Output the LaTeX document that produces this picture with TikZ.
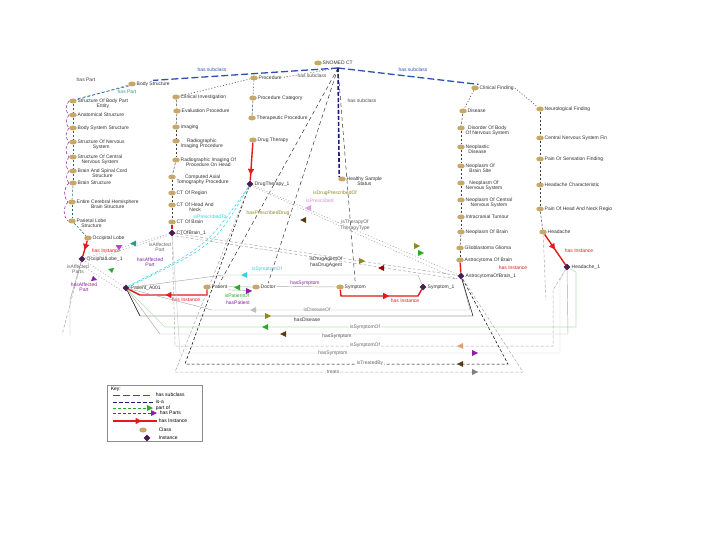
\documentclass[tikz,border=0pt]{standalone}
\usepackage{fontspec}
\setmainfont{Liberation Sans}
\usetikzlibrary{shapes.geometric,arrows.meta,decorations.markings}
\definecolor{clsc}{HTML}{C8A868}
\definecolor{instc}{HTML}{4B1E52}
\definecolor{subc}{HTML}{2E50B5}
\definecolor{isac}{HTML}{1C1C7A}
\definecolor{redc}{HTML}{E31A1A}
\definecolor{cyanc}{HTML}{3CCFE0}
\definecolor{greenc}{HTML}{2EA82E}
\definecolor{purc}{HTML}{8B1FA8}
\definecolor{olivec}{HTML}{8C8A22}
\definecolor{grayc}{HTML}{A8A8A8}
\definecolor{lgreenc}{HTML}{B8E4B0}
\definecolor{brownc}{HTML}{5A3A10}
\definecolor{tealc}{HTML}{2A9A8A}
\definecolor{magc}{HTML}{C040D0}
\definecolor{tanc}{HTML}{E0A070}
\newcommand\mkcls[4]{\node[clsicon] (#1) at (#2,#3) {}; \node[lbl] (#1-t) at (#2+3.5,#3-3.6) {#4};}
\newcommand\mkinst[4]{\node[insticon] (#1) at (#2,#3) {}; \node[lbl] (#1-t) at (#2+3.5,#3-3.6) {#4};}
\newcommand\rarr[3]{\fill[#3] (#1,#2) -- ++(-6,-3) -- ++(0,6) -- cycle;}
\newcommand\larr[3]{\fill[#3] (#1,#2) -- ++(6,-3) -- ++(0,6) -- cycle;}
\tikzset{
 clsicon/.style={ellipse, fill=clsc, minimum width=7.5pt, minimum height=5pt, inner sep=0pt},
 insticon/.style={diamond, fill=instc, minimum width=7pt, minimum height=7pt, inner sep=0pt},
 lbl/.style={font=\fontsize{5}{5.5}\selectfont, text=black!80, inner sep=1pt, align=center, anchor=north west},
 elbl/.style={font=\fontsize{5}{5.5}\selectfont, inner sep=0.6pt, align=center},
 subcl/.style={draw=subc, line width=1.3pt, dash pattern=on 7pt off 3pt},
 isa/.style={draw=isac, line width=1.6pt, dash pattern=on 4pt off 2pt},
 chain/.style={draw=black!75, line width=0.5pt, dash pattern=on 2.5pt off 1.5pt},
 dotl/.style={draw=black!75, line width=0.6pt, dash pattern=on 1pt off 2pt},
 thinl/.style={line width=0.45pt},
 dashl/.style={line width=0.5pt, dash pattern=on 3pt off 2pt},
 longd/.style={draw=black!80, line width=0.5pt, dash pattern=on 4pt off 3pt},
 instl/.style={draw=redc, line width=1.4pt},
 atip/.style 2 args={postaction={decorate}, decoration={markings, mark=at position #1 with {\arrow{Triangle[length=6pt,width=6pt,color=#2]}}}},
}
\begin{document}
\begin{tikzpicture}[x=1pt,y=-1pt]
\fill[white] (0,0) rectangle (720,540);
\path[use as bounding box] (0,0) rectangle (720,540);

% ---------- top
\mkcls{root}{318}{63}{SNOMED CT}
\coordinate (hub) at (338,68);
\mkcls{bs}{132}{84}{Body Structure}
\mkcls{proc}{254}{78}{Procedure}
\mkcls{cfd}{475}{88}{Clinical Finding}
\mkcls{hs}{342}{179}{Healthy Sample\\Status}

% ---------- left column
\mkcls{la}{73}{101}{Structure Of Body Part\\Entity}
\mkcls{lb}{73}{115}{Anatomical Structure}
\mkcls{lc}{73}{128}{Body System Structure}
\mkcls{ld}{73}{142}{Structure Of Nervous\\System}
\mkcls{le}{73}{157}{Structure Of Central\\Nervous System}
\mkcls{lf}{73}{171}{Brain And Spinal Cord\\Structure}
\mkcls{lg}{73}{183}{Brain Structure}
\mkcls{lh}{72}{202}{Entire Cerebral Hemisphere\\Brain Structure}
\mkcls{li}{72}{221}{Parietal Lobe\\Structure}
\mkcls{lj}{88}{238}{Occipital Lobe}
\mkinst{lI}{82}{259}{OccipitalLobe\_1}

% ---------- centre-left column
\mkcls{ca}{176}{97}{Clinical Investigation}
\mkcls{cb}{177}{111}{Evaluation Procedure}
\mkcls{cc}{176}{127}{Imaging}
\mkcls{cd}{176}{141}{Radiographic\\Imaging Procedure}
\mkcls{ce}{176}{160}{Radiographic Imaging Of\\Procedure On Head}
\mkcls{cg}{172}{177}{Computed Axial\\Tomography Procedure}
\mkcls{ch}{172}{193}{CT Of Region}
\mkcls{ci}{172}{205}{CT Of Head And\\Neck}
\mkcls{cj}{172}{222}{CT Of Brain}
\mkinst{cI}{172}{233}{CTOfBrain\_1}

% ---------- centre column
\mkcls{da}{253}{98}{Procedure Category}
\mkcls{db}{252}{118}{Therapeutic Procedure}
\mkcls{dc}{253}{140}{Drug Therapy}
\mkinst{dI}{250}{184}{DrugTherapy\_1}

% ---------- disease column
\mkcls{ea}{463}{111}{Disease}
\mkcls{eb}{461}{128}{Disorder Of Body\\Of Nervous System}
\mkcls{ec}{461}{147}{Neoplastic\\Disease}
\mkcls{ed}{461}{166}{Neoplasm Of\\Brain Site}
\mkcls{ee}{461}{183}{Neoplasm Of\\Nervous System}
\mkcls{ef}{461}{200}{Neoplasm Of Central\\Nervous System}
\mkcls{eg}{461}{217}{Intracranial Tumour}
\mkcls{eh}{461}{232}{Neoplasm Of Brain}
\mkcls{ei}{460}{248}{Glioblastoma Glioma}
\mkcls{ej}{460}{260}{Astrocytoma Of Brain}
\mkinst{eI}{461}{276}{AstrocytomaOfBrain\_1}

% ---------- finding column
\mkcls{fa}{540}{109}{Neurological Finding}
\mkcls{fb}{540}{138}{Central Nervous System Fin}
\mkcls{fc}{540}{159}{Pain Or Sensation Finding}
\mkcls{fd}{540}{185}{Headache Characteristic}
\mkcls{fe}{540}{209}{Pain Of Head And Neck Regio}
\mkcls{ff}{543}{232}{Headache}
\mkinst{fI}{567}{267}{Headache\_1}

% ---------- middle row
\mkcls{pc}{207}{287}{Patient}
\mkcls{dr}{256}{287}{Doctor}
\mkcls{sc}{340}{287}{Symptom}
\mkinst{pI}{126}{288}{Patient\_A001}
\mkinst{sI}{423}{287}{Symptom\_1}

% ---------- top edges
\draw[subcl] (hub) -- (bs-t.north);
\draw[subcl] (hub) -- (cfd-t.north west);
\draw[isa] (hub) -- (hs.north west);
\draw[dotl] (hub) -- (proc-t.east);
\draw[dotl] (proc) -- (ca);
\draw[dotl] (proc) -- (da);
\draw[dotl] (cfd) -- (ea);
\draw[dotl] (cfd-t.east) -- (fa);
\draw[longd] (hub) -- (pc-t.north);
\draw[longd] (hub) -- (dr-t.north);
\draw[longd] (hub) -- (sc-t.north);
\node[elbl, text=subc] (ls1) at (212,70) {has subclass};
\node[elbl, text=subc] (ls2) at (413,70) {has subclass};
\node[elbl, text=black!70] (ls3) at (362,101) {has subclass};
\node[elbl, text=black!70, fill=white] (ls4) at (312,76) {has subclass};

% ---------- left column edges
\draw[dashl, draw=tealc] (bs) -- (la);
\draw[dashl, draw=subc] (bs.south west) -- (la.north east);
\node[elbl, text=black!75] (lhp1) at (86,80) {has Part};
\node[elbl, text=tealc] (lhp2) at (127,92) {has Part};
\foreach \a/\b in {la/lb,lb/lc,lc/ld,ld/le,le/lf,lf/lg,lg/lh,lh/li,li/lj}
  \draw[chain, draw=tealc!70!black] (\a) -- (\b);
\foreach \a/\b in {la/lb,lb/lc,lc/ld,ld/le,le/lf,lf/lg,lg/lh,lh/li}
  \draw[dashl, draw=purc] (\a.west) to[bend right=45] (\b.west);
\draw[instl, atip={0.6}{redc}] (lj) -- (lI);
\node[elbl, text=redc] (lhi) at (106,251) {has Instance};
\coordinate (lo1) at (62,335);
\coordinate (lo2) at (70,335);
\draw[dashl, draw=grayc] (lI) -- (lo1);
\draw[thinl, draw=grayc] (lI) -- (70,300) -- (lo2);

% ---------- centre-left edges
\foreach \a/\b in {ca/cb,cb/cc,cc/cd,cd/ce,ce/cg,cg/ch,ch/ci,ci/cj}
  \draw[chain] (\a) -- (\b);
\draw[instl] (cj) -- (cI);

% ---------- centre column edges
\draw[chain] (da) -- (db);
\draw[instl, atip={0.85}{redc}] (dc) -- (dI);

% ---------- disease / finding columns
\foreach \a/\b in {ea/eb,eb/ec,ec/ed,ed/ee,ee/ef,ef/eg,eg/eh,eh/ei,ei/ej}
  \draw[chain] (\a) -- (\b);
\draw[instl] (ej) -- (eI);
\node[elbl, text=redc] (ehi) at (513,268) {has Instance};
\foreach \a/\b in {fa/fb,fb/fc,fc/fd,fd/fe,fe/ff}
  \draw[chain] (\a) -- (\b);
\draw[instl, atip={0.5}{redc}] (ff) -- (fI);
\node[elbl, text=redc] (fhi) at (579,251) {has Instance};
\draw[dashl, draw=grayc] (ff) -- (546,300);

% ---------- instance relations, upper
\draw[dotl, draw=grayc] (lI) -- (cI);
\draw[dotl, draw=grayc] ([yshift=-2.5pt]lI.east) -- ([yshift=-2.5pt]cI.west);
\fill[magc] (119,250) -- ++(-3.5,-5) -- ++(7,0) -- cycle;
\larr{130}{243.5}{tealc}
\node[elbl, text=black!60] (lia) at (160,247) {isAffected\\Part};
\node[elbl, text=purc] (lib) at (150,262) {hasAffected\\Part};
\draw[dotl, draw=grayc] (pI) -- (lI);
\draw[dotl, draw=grayc] ([yshift=-3pt]pI.west) -- ([yshift=-3pt]lI.south);
\fill[greenc] (108,269) -- ++(6,-1) -- ++(-2,5) -- cycle;
\fill[purc] (93,276) -- ++(-2,5) -- ++(6,-1) -- cycle;
\node[elbl, text=black!60] (lpa) at (78,269) {isAffected\\Parts};
\node[elbl, text=purc] (lpb) at (84,287) {hasAffected\\Part};

\draw[dashl, draw=cyanc] (dI) .. controls (215,245) .. (pI);
\draw[dashl, draw=cyanc] ([xshift=-2pt]dI.south) .. controls (205,248) .. (pI.north east);
\node[elbl, text=cyanc] (lpt) at (210,217) {isPrescribedTo};
\node[elbl, text=olivec] (lpd) at (268,213) {hasPrescribedDrug};
\node[elbl, text=olivec] (lpo) at (335,193) {isDrugPrescribedOf};
\node[elbl, text=magc!60] (lpb2) at (320,201) {isPrescribed};
\fill[magc!50] (305,208) -- ++(6,-3) -- ++(0,6) -- cycle;
\fill[brownc] (300,220) -- ++(6,-3) -- ++(0,6) -- cycle;
\node[elbl, text=black!60] (ltt) at (355,225) {isTherapyOf\\TherapyType};

\draw[dotl, draw=grayc] (dI) -- (eI);
\draw[dotl, draw=grayc] ([yshift=-3pt]dI.east) -- ([yshift=-3pt]eI.west);
\fill[olivec] (420,246) -- ++(-6,-3) -- ++(0,6) -- cycle;
\fill[greenc] (424,253) -- ++(-6,-3) -- ++(0,6) -- cycle;
\draw[dashl, draw=grayc] (cI) -- (eI);
\draw[dashl, draw=grayc] ([yshift=-3pt]cI.east) -- ([yshift=-3pt]eI.west);
\fill[olivec] (365,261) -- ++(-6,-3) -- ++(0,6) -- cycle;
\fill[red!60!black] (378,268) -- ++(6,-3) -- ++(0,6) -- cycle;
\node[elbl, text=black!80] (lda) at (326,262) {isDrugAgentOf\\hasDrugAgent};

% ---------- middle row edges
\draw[instl, atip={0.55}{redc}] (pc) -- (207,295) -- (140,295) -- (pI);
\node[elbl, text=redc] (phi) at (186,300) {has Instance};
\draw[instl, atip={0.6}{redc}] (sc) -- (341,296) -- (418,296) -- (sI);
\node[elbl, text=redc] (shi) at (405,301) {has Instance};
\draw[line width=0.8pt, draw=lgreenc] (pc-t.east) -- (dr.west);
\larr{234}{287.5}{greenc}
\draw[thinl, draw=grayc] ([yshift=-3.5pt]pc-t.east) -- ([yshift=-3.5pt]dr.west);
\rarr{252}{291}{purc}
\node[elbl, text=greenc] (lpo2) at (237,296) {isPatientOf};
\node[elbl, text=purc] (lpp) at (238,303) {hasPatient};
\draw[thinl, draw=grayc] (dr-t.east) -- (sc.west);
\node[elbl, text=purc] (lds) at (305,283) {hasSymptom};
\draw[thinl, draw=grayc] (pI) -- (223,275) -- (418,275) -- (sI);
\larr{241}{275}{cyanc}
\node[elbl, text=cyanc] (lsy) at (267,269) {isSymptomOf};

% ---------- bottom lattice
\draw[thinl, draw=grayc] (pI) -- (212,310) -- (470,310) -- (eI);
\larr{250}{310}{black!25}
\node[elbl, fill=white, text=black!55] (b1l) at (317,310) {isDiseaseOf};
\draw[thinl, draw=black] (pI) -- (140,316) -- (473,316) -- (eI);
\rarr{271}{316}{olivec}
\node[elbl, text=black!80] (b2l) at (307,320) {hasDisease};
\draw[line width=0.7pt, draw=lgreenc] (pI) -- (165,327) -- (576,327) -- (576,272) -- (fI);
\larr{262}{327}{greenc}
\node[elbl, fill=white, text=black!60] (b3l) at (365,327) {isSymptomOf};
\draw[thinl, draw=grayc] (pI) -- (160,334) -- (568,334) -- (fI);
\larr{280}{334}{brownc}
\node[elbl, fill=white, text=black!70] (b4l) at (337,336) {hasSymptom};
\draw[dashl, draw=grayc] (cI) -- (175,346) -- (553,346) -- (553,290) -- (fI);
\larr{457}{346}{tanc}
\node[elbl, fill=white, text=black!60] (b5l) at (365,345) {isSymptomOf};
\draw[thinl, draw=black!20] (cI) -- (180,353) -- (560,353) -- (560,280) -- (fI);
\rarr{478}{353}{purc}
\node[elbl, fill=white, text=black!60] (b6l) at (333,353) {hasSymptom};
\draw[dashl, draw=black] (dI) -- (185,364) -- (508,364) -- (eI);
\larr{457}{364}{brownc}
\node[elbl, fill=white, text=black!60] (b7l) at (370,363) {isTreatedBy};
\draw[dashl, draw=grayc] (dI) -- (175,372) -- (523,372) -- (eI);
\rarr{478}{372}{black!50}
\node[elbl, fill=white, text=black!60] (b8l) at (333,372) {treats};

% ---------- legend
\node[draw=black!45, line width=0.4pt, minimum width=95pt, minimum height=56pt, anchor=north west, inner sep=0pt] (key) at (107,385) {};
\node[elbl, anchor=west] (kt) at (110,389) {Key:};
\coordinate (k1a) at (113,395); \coordinate (k1b) at (153,395);
\draw[subcl, line width=1pt] (k1a) -- (k1b);
\node[elbl, anchor=west] (k1) at (155,395) {has subclass};
\coordinate (k2a) at (113,402); \coordinate (k2b) at (153,402);
\draw[isa, line width=1pt] (k2a) -- (k2b);
\node[elbl, anchor=west] (k2) at (155,402) {is-a};
\coordinate (k3a) at (113,408); \coordinate (k3b) at (153,408);
\draw[dashl, draw=greenc, line width=0.7pt] (k3a) -- (k3b);
\rarr{153}{408}{greenc}
\node[elbl, anchor=west] (k3) at (155,408) {part of};
\coordinate (k4a) at (113,413); \coordinate (k4b) at (157,413);
\draw[dashl, draw=purc, line width=0.7pt] (k4a) -- (k4b);
\rarr{157}{413}{purc}
\node[elbl, anchor=west] (k4) at (159,413) {has Parts};
\coordinate (k5a) at (113,421); \coordinate (k5b) at (157,421);
\draw[instl, atip={0.65}{redc}] (k5a) -- (k5b);
\node[elbl, anchor=west] (k5) at (158,421) {has Instance};
\node[clsicon] (k6i) at (143,430) {};
\node[elbl, anchor=west] (k6) at (158,430) {Class};
\node[insticon] (k7i) at (147,438) {};
\node[elbl, anchor=west] (k7) at (158,438) {Instance};
\end{tikzpicture}
\end{document}
